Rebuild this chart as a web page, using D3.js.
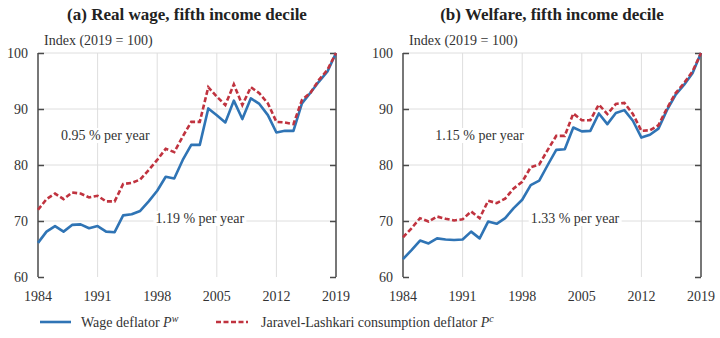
<!DOCTYPE html>
<html>
<head>
<meta charset="utf-8">
<script src="https://cdn.jsdelivr.net/npm/d3@7"></script>
<style>
  body { margin: 0; background: #fff; }
</style>
</head>
<body>
<svg id="chart" width="720" height="338"></svg>
<script>
// years and ticks
var years = [1984, 1985, 1986, 1987, 1988, 1989, 1990, 1991, 1992, 1993, 1994, 1995,
  1996, 1997, 1998, 1999, 2000, 2001, 2002, 2003, 2004, 2005, 2006, 2007,
  2008, 2009, 2010, 2011, 2012, 2013, 2014, 2015, 2016, 2017, 2018, 2019];
var xTicks = [1984, 1991, 1998, 2005, 2012, 2019];
var yTicks = [60, 70, 80, 90, 100];

// (a) real wage, fifth decile
var wageA = [66.1, 68.1, 69.1, 68.1, 69.3, 69.4, 68.7, 69.1, 68.1, 68.0, 71.0, 71.2,
  71.8, 73.5, 75.4, 77.9, 77.6, 80.9, 83.6, 83.6, 90.1, 88.9, 87.6, 91.5,
  88.2, 91.9, 90.9, 88.9, 85.8, 86.1, 86.1, 91.0, 92.9, 94.9, 96.7, 100];
var consA = [72.0, 73.9, 74.9, 73.9, 75.1, 74.9, 74.2, 74.5, 73.5, 73.5, 76.6, 76.8,
  77.4, 79.1, 80.9, 82.9, 82.3, 85.1, 87.7, 87.7, 93.9, 92.2, 90.7, 94.4,
  90.7, 93.9, 92.8, 91.0, 87.7, 87.6, 87.3, 91.6, 92.9, 95.2, 97.0, 100];

// (b) welfare, fifth decile
var wageB = [63.2, 64.8, 66.5, 66.0, 66.9, 66.7, 66.6, 66.7, 68.1, 66.9, 69.9, 69.5,
  70.5, 72.3, 73.8, 76.4, 77.2, 80.0, 82.7, 82.8, 86.7, 86.0, 86.1, 89.2,
  87.3, 89.3, 89.8, 87.9, 84.9, 85.4, 86.5, 89.8, 92.5, 94.3, 96.4, 100];
var consB = [67.1, 68.7, 70.5, 69.9, 70.8, 70.4, 70.1, 70.3, 71.7, 70.5, 73.6, 73.2,
  74.0, 75.8, 77.0, 79.6, 80.1, 82.7, 85.2, 85.2, 89.2, 88.0, 88.0, 90.8,
  89.1, 90.9, 91.1, 89.1, 86.1, 86.2, 87.1, 90.1, 92.8, 94.6, 96.7, 100];

var titles = ["(a) Real wage, fifth income decile", "(b) Welfare, fifth income decile"];
var notesTop = ["0.95 % per year", "1.15 % per year"];
var notesBottom = ["1.19 % per year", "1.33 % per year"];

var blue = "#2f74b5", red = "#c0333f";
var font = "Liberation Serif";

var svg = d3.select("#chart");

var panels = [
  {left: 38, right: 336, wage: wageA, cons: consA, i: 0, n1: 1991.9, n2: 2003.0},
  {left: 403, right: 701, wage: wageB, cons: consB, i: 1, n1: 1993.0, n2: 2004.2}
];

var y = d3.scaleLinear().domain([60, 100]).range([277, 53]);

panels.forEach(function(p) {
  var x = d3.scaleLinear().domain([1984, 2019]).range([p.left, p.right]);
  var g = svg.append("g");

  // grid
  g.selectAll(".vg").data(xTicks.slice(1, -1)).enter().append("line")
    .attr("x1", d => x(d)).attr("x2", d => x(d))
    .attr("y1", y(60)).attr("y2", y(100))
    .attr("stroke", "#dedede").attr("stroke-width", 1);
  g.selectAll(".hg").data(yTicks.slice(1)).enter().append("line")
    .attr("x1", p.left).attr("x2", p.right)
    .attr("y1", d => y(d)).attr("y2", d => y(d))
    .attr("stroke", "#dedede").attr("stroke-width", 1);

  // axes, ticks pointing inward
  var yl = g.append("g").attr("transform", "translate(" + p.left + ",0)")
    .call(d3.axisRight(y).tickValues(yTicks).tickSize(6).tickFormat(""));
  var yr = g.append("g").attr("transform", "translate(" + p.right + ",0)")
    .call(d3.axisLeft(y).tickValues(yTicks).tickSize(6).tickFormat(""));
  [yl, yr].forEach(function(a) {
    a.select(".domain").remove();
    a.selectAll(".tick line").attr("stroke", "#4a4a4a").attr("stroke-width", 1.5);
  });
  [p.left, p.right].forEach(function(xx) {
    g.append("line").attr("x1", xx).attr("x2", xx)
      .attr("y1", y(60)).attr("y2", y(100))
      .attr("stroke", "#4a4a4a").attr("stroke-width", 1.5);
  });

  g.selectAll(".yl").data(yTicks).enter().append("text")
    .attr("x", p.left - 10).attr("y", d => y(d) + 4.5)
    .attr("text-anchor", "end").attr("font-size", 14).attr("fill", "#333")
    .text(d => d);
  g.selectAll(".xl").data(xTicks).enter().append("text")
    .attr("x", d => x(d)).attr("y", 301)
    .attr("text-anchor", "middle").attr("font-size", 14).attr("fill", "#333")
    .text(d => d);

  // titles
  g.append("text").attr("x", (p.left + p.right) / 2).attr("y", 20)
    .attr("text-anchor", "middle").attr("font-size", 17).attr("font-weight", "bold")
    .attr("fill", "#222").text(titles[p.i]);
  g.append("text").attr("x", p.left + 6).attr("y", 45)
    .attr("font-size", 14).attr("fill", "#333").text("Index (2019 = 100)");

  // annotations with white boxes
  var notes = [
    {t: notesTop[p.i], cx: x(p.n1), cy: 140},
    {t: notesBottom[p.i], cx: x(p.n2), cy: 223}
  ];
  notes.forEach(function(n) {
    var bg = g.append("rect").attr("fill", "#fff");
    var t = g.append("text").attr("x", n.cx).attr("y", n.cy).attr("font-family", font)
      .attr("text-anchor", "middle").attr("font-size", 14).attr("fill", "#333").text(n.t);
    var b = t.node().getBBox();
    bg.attr("x", b.x - 2).attr("y", b.y).attr("width", b.width + 4).attr("height", b.height);
  });

  var line = d3.line().x((d, i) => x(years[i])).y(d => y(d));
  g.append("path").datum(p.wage).attr("d", line)
    .attr("fill", "none").attr("stroke", blue).attr("stroke-width", 2.6)
    .attr("stroke-linejoin", "round");
  g.append("path").datum(p.cons).attr("d", line)
    .attr("fill", "none").attr("stroke", red).attr("stroke-width", 2.6)
    .attr("stroke-dasharray", "5,2.5");
});

// legend
var lg = svg.append("g").attr("transform", "translate(0,322)");
lg.append("line").attr("x1", 40).attr("x2", 71).attr("stroke", blue).attr("stroke-width", 2.6);
var t1 = lg.append("text").attr("x", 81).attr("y", 4.5).attr("font-size", 14).attr("fill", "#333");
t1.append("tspan").text("Wage deflator ");
t1.append("tspan").attr("font-style", "italic").text("P");
t1.append("tspan").attr("font-style", "italic").attr("font-size", 10).attr("dy", -5).text("w");
lg.append("line").attr("x1", 216).attr("x2", 248).attr("stroke", red).attr("stroke-width", 2.6)
  .attr("stroke-dasharray", "5,2.5");
var t2 = lg.append("text").attr("x", 261).attr("y", 4.5).attr("font-size", 14).attr("fill", "#333");
t2.append("tspan").text("Jaravel-Lashkari consumption deflator ");
t2.append("tspan").attr("font-style", "italic").text("P");
t2.append("tspan").attr("font-style", "italic").attr("font-size", 10).attr("dy", -5).text("c");

svg.selectAll("text").attr("font-family", font);
</script>
</body>
</html>
